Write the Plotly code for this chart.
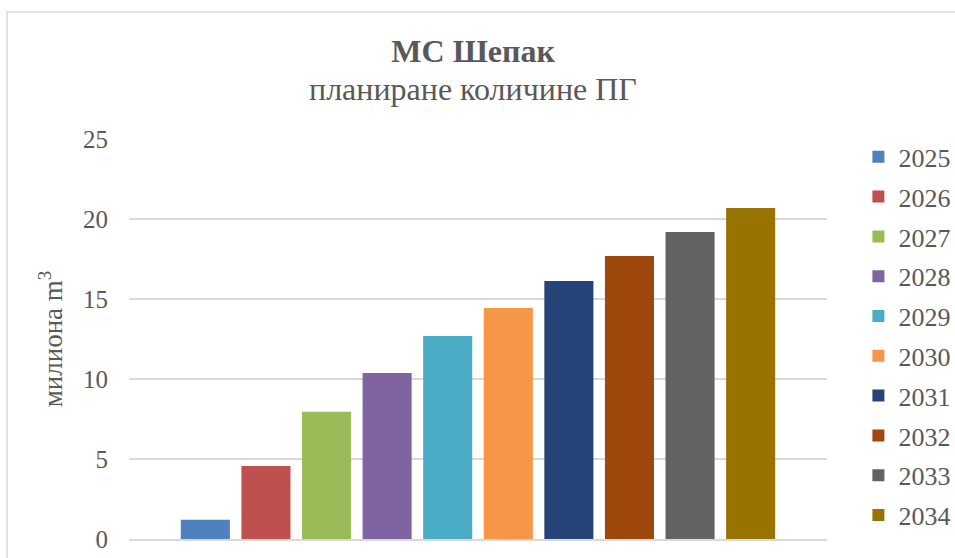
import plotly.graph_objects as go

# Planned gas quantities per year (million m3)
years = ["2025", "2026", "2027", "2028", "2029", "2030", "2031", "2032", "2033", "2034"]
volumes = [1.2, 4.57, 7.95, 10.38, 12.69, 14.44, 16.13, 17.69, 19.19, 20.69]
colors = ["#4F81BD", "#C0504D", "#9BBB59", "#8064A2", "#4BACC6",
          "#F79646", "#264478", "#9E480E", "#636363", "#997300"]

category = ["МС Шепак"]

FONT = "Liberation Serif, Times New Roman, serif"
TEXT = "#595959"
GRID = "#D9D9D9"

fig = go.Figure()
for yr, val, col in zip(years, volumes, colors):
    fig.add_trace(go.Bar(
        x=category, y=[val], name=yr, legendgroup=yr,
        marker=dict(color=col, line=dict(width=0)),
    ))

fig.update_layout(
    width=955, height=558,
    margin=dict(l=129, r=128, t=139, b=19, autoexpand=False),
    paper_bgcolor="white", plot_bgcolor="white",
    barmode="group", bargap=0.132, bargroupgap=0.19,
    font=dict(family=FONT, color=TEXT),
    title=dict(text="<b>МС Шепак</b>", x=0.493, xref="paper", xanchor="center",
               y=1 - 51 / 558, yref="container", yanchor="middle",
               font=dict(size=32, color=TEXT, family=FONT)),
    showlegend=True,
    legend=dict(x=1.045, xanchor="left", y=1.014, yanchor="top",
                font=dict(size=26, color=TEXT, family=FONT),
                tracegroupgap=3, maxheight=1.0, bgcolor="rgba(0,0,0,0)"),
    xaxis=dict(range=[-0.5, 0.5], showticklabels=False, showgrid=False,
               showline=True, linecolor=GRID, linewidth=1.5, zeroline=False),
    yaxis=dict(range=[0, 25], dtick=5, showgrid=True, gridcolor=GRID, gridwidth=1.5,
               zeroline=False, showline=False, ticks="",
               ticklabelstandoff=20,
               tickfont=dict(size=25, color=TEXT, family=FONT),
               title=dict(text="милиона m<sup>3</sup>", standoff=12,
                          font=dict(size=27, color=TEXT, family=FONT))),
)

fig.add_annotation(text="планиране количине ПГ", xref="paper", yref="paper",
                   x=0.493, y=(539 - 89) / 400, xanchor="center", yanchor="middle",
                   showarrow=False, font=dict(size=32, color=TEXT, family=FONT))

# Light chart-area frame
fig.add_shape(type="rect", xref="paper", yref="paper",
              x0=(7 - 129) / 698, x1=(965 - 129) / 698,
              y0=(539 - 570) / 400, y1=(539 - 12) / 400,
              line=dict(color=GRID, width=1.5), fillcolor="rgba(0,0,0,0)", layer="below")

fig.write_html("out.html")
